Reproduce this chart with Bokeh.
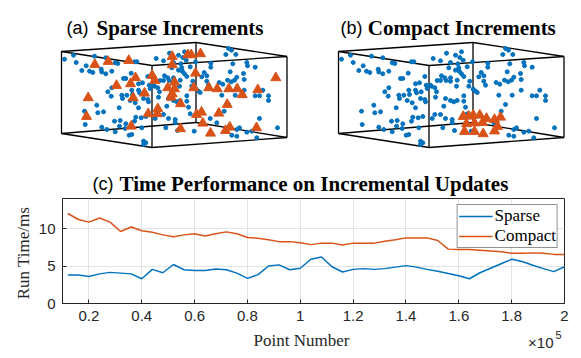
from math import pi
from bokeh.plotting import figure
from bokeh.layouts import column, row
from bokeh.models import Range1d, FixedTicker, NumeralTickFormatter
from bokeh.core.properties import value
from bokeh.embed import file_html
from bokeh.resources import INLINE

BLUE = "#0072BD"
ORANGE = "#D95319"
DARK = "#262626"

# ---------------- (c) time performance data ----------------
point_number = [0.12, 0.16, 0.20, 0.24, 0.28, 0.32, 0.36, 0.40, 0.44, 0.48,
                0.52, 0.56, 0.60, 0.64, 0.68, 0.72, 0.76, 0.80, 0.84, 0.88,
                0.92, 0.96, 1.00, 1.04, 1.08, 1.12, 1.16, 1.20, 1.24, 1.28,
                1.32, 1.36, 1.40, 1.44, 1.48, 1.52, 1.56, 1.60, 1.64, 1.68,
                1.72, 1.76, 1.80, 1.84, 1.88, 1.92, 1.96, 2.00]
sparse_ms = [3.8, 3.8, 3.6, 3.95, 4.15, 4.05, 3.95, 3.3, 4.55, 4.1,
             5.2, 4.5, 4.4, 4.4, 4.6, 4.5, 4.05, 3.35, 3.85, 5.0,
             5.15, 4.5, 4.7, 5.9, 6.2, 4.9, 4.2, 4.55, 4.65, 4.55,
             4.65, 4.85, 5.05, 4.85, 4.55, 4.3, 4.0, 3.7, 3.3, 4.1,
             4.7, 5.3, 5.9, 5.6, 5.1, 4.65, 4.25, 4.9]
compact_ms = [12.0, 11.2, 10.85, 11.4, 10.85, 9.6, 10.2, 9.7, 9.5, 9.15,
              8.9, 9.15, 9.3, 9.0, 9.3, 9.55, 9.3, 8.8, 8.7, 8.5,
              8.25, 8.25, 8.1, 7.85, 8.05, 8.05, 7.8, 8.05, 8.05, 8.05,
              8.3, 8.5, 8.75, 8.75, 8.75, 8.4, 7.25, 7.2, 7.2, 7.1,
              7.0, 6.9, 6.7, 6.7, 6.75, 6.7, 6.55, 6.55]
x_ticks = [0.2, 0.4, 0.6, 0.8, 1.0, 1.2, 1.4, 1.6, 1.8, 2.0]
y_ticks = [0, 5, 10]
series_names = ["Sparse", "Compact"]

# ---------------- (a)/(b) projected point clouds ----------------
cloud_u = [3, 12, 14.7, 24.7, 20.3, 28, 31.3, 33, 39.7, 40.3, 44.3, 44.3, 50.3, 53.7, 56.3,
           62, 64.3, 69.7, 73, 75.3, 77, 81, 86.3, 87.7, 92, 96.3, 98.7, 102, 103, 106.3,
           107.7, 112, 112, 110.3, 102, 94.7, 108, 112, 50.3, 46.3, 49.7, 60.3, 65.3, 70.3, 71,
           77, 78, 82.7, 88.7, 93, 98,
           117, 123, 121.3, 124.7, 119.3, 117, 120.3, 121, 128.7, 123, 125.3, 118.7, 131.3, 118,
           130.3, 134.7, 137, 138.7, 125.3, 134, 140.3, 142.7, 145.3, 145.3, 147, 149.3, 149.3,
           164.3, 167, 170, 174.3, 171.3, 168.7, 157.7, 161.3, 166, 169.7, 173, 175.3, 182,
           182.7, 182.7, 185.3, 186, 193.7, 201.3, 160.3, 173.7, 193.7, 198, 207,
           61, 68.7, 73.7, 77, 82, 86.3, 87, 97, 107, 112, 105.3, 35.3, 57.7, 23, 36.3, 42,
           93.7, 96.3, 102, 107, 113.7, 74.3, 79.7, 84.3, 53, 58.7, 64.3, 58, 73, 23.7, 40.3,
           45.3, 53.7, 63.7, 80.3, 104.3, 67.7, 70.3, 82, 84.3, 82,
           118.7, 125.3, 115.3, 127, 128.7, 207, 167, 162.7, 198, 113.7, 116, 148.7, 155.3,
           175.3, 178, 190.3, 216, 195.3, 170.3, 175.3, 132.7, 185.3]
cloud_v = [58.7, 54.7, 62, 65.3, 70, 70.7, 72, 55.7, 68.7, 71.5, 73.3, 57.3, 70.7, 62.3, 63,
           78, 78, 72.7, 61.3, 61.3, 83.3, 82.3, 76, 84.7, 84.7, 87.3, 80, 80, 75.3, 77.3,
           80, 77.3, 80.7, 67.3, 60.3, 58, 52.7, 62, 87.3, 91.3, 95.7, 94.7, 94.7, 89.7, 94,
           89.7, 92.3, 91.3, 88, 85.7, 91.3,
           54.7, 51.3, 57, 59.7, 63.3, 69.7, 67.3, 71, 66.3, 73.3, 76, 79.7, 80.7, 85.7,
           85.7, 88.7, 90.7, 92, 95.3, 61.3, 76.3, 72, 75.3, 80.7, 84.7, 62.7, 66.7,
           54, 48, 49.7, 54, 63.3, 71.3, 82, 83.7, 79.7, 81.3, 79.7, 76.7, 73,
           79, 89.7, 62, 65.3, 66.7, 89.7, 94.7, 94.7, 95.3, 95.3, 95.3,
           98, 100, 102.3, 107.3, 98, 99, 101.3, 96.7, 98, 100, 105.7, 104.7, 107.3, 110.7, 112.3, 111.3,
           118, 114, 114, 118, 119, 116.7, 117.3, 116, 120.7, 120, 123.3, 125.7, 120.7, 124, 126.7,
           129, 131.3, 128, 127.3, 127.3, 134.7, 134, 140.7, 142.3, 144,
           100, 100.7, 101.3, 106.7, 113.3, 100, 104, 110.7, 118, 122.3, 130, 118, 122.3,
           129, 127.3, 130.7, 127.3, 137.3, 134.7, 135.7, 130.7, 131.7]

sparse_tri_u = [33.3, 46.7, 67.3, 110.7, 126.3, 129.7, 139, 110.7, 90.7, 93.3, 74, 69, 55,
                134, 113, 106.3, 113, 110.7, 109.7, 132.3, 147.3, 155.7, 167.3, 175.7, 180.7,
                196.3, 214.3, 26.7, 25, 71.7, 83, 96.3, 95.7, 86.7, 119, 140, 135, 157.3,
                165.7, 141.3, 69.7, 119, 149, 164, 168.3, 195]
sparse_tri_v = [64, 61, 60, 56, 54.3, 54.3, 53.3, 64.3, 75, 80, 77.3, 83.3, 85,
                72.7, 81.7, 87.3, 88.3, 93.3, 96.7, 87.3, 87.3, 88.3, 88.3, 88.3, 94.3,
                89.3, 77.3, 97.3, 116, 97.3, 92.7, 108.3, 113.3, 113.3, 103.3, 111.7, 114, 112.7,
                104, 122.7, 125.7, 128.3, 132.7, 130, 126.7, 127.3]
compact_tri_u = [124.7, 130.3, 134.7, 141.3, 148, 156, 162, 128, 136, 144, 126, 136, 144.7, 156, 159]
compact_tri_v = [116, 115.7, 114.7, 114.7, 118, 119, 116.7, 123.3, 122.5, 122, 131, 131, 133.3, 130.5, 126]

# projected corners of the 3-D axes box (top face, bottom face)
box_u = [0, 134.5, 225.5, 90.5]
box_top_v = [51, 42, 56, 65]
box_bot_v = [133, 122, 137, 147]

edge_xs, edge_ys = [], []
for i in range(4):
    j = (i + 1) % 4
    edge_xs += [[box_u[i], box_u[j]], [box_u[i], box_u[j]], [box_u[i], box_u[i]]]
    edge_ys += [[box_top_v[i], box_top_v[j]], [box_bot_v[i], box_bot_v[j]],
                [box_top_v[i], box_bot_v[i]]]


def strip(width, height, x0, y0):
    p = figure(width=width, height=height, x_range=Range1d(x0, x0 + width),
               y_range=Range1d(y0 + height, y0), x_axis_location=None,
               y_axis_location=None, output_backend="svg", toolbar_location=None,
               min_border=0)
    p.grid.visible = False
    p.outline_line_color = None
    return p


def cloud_panel(width, x0, tag, title, tag_x, title_x, tri_u, tri_v):
    p = strip(width, 168, x0, 0)
    p.multi_line(edge_xs, edge_ys, line_color="black", line_width=1.3)
    p.scatter(cloud_u, cloud_v, size=4, color=BLUE)
    p.scatter(tri_u, tri_v, marker="triangle", size=10, color=ORANGE)
    p.text(x=[tag_x], y=[27], text=[tag], text_font=value("Liberation Sans"),
           text_font_size="18px", text_baseline="alphabetic", text_color="black")
    p.text(x=[title_x], y=[27], text=[title], text_font=value("Liberation Serif"),
           text_font_size="21px", text_font_style="bold", text_baseline="alphabetic",
           text_color="black")
    return p


pa = cloud_panel(290, -61, "(a)", "Sparse Increments", 5, 35, sparse_tri_u, sparse_tri_v)
pb = cloud_panel(291, -48, "(b)", "Compact Increments", 2, 29.3, compact_tri_u, compact_tri_v)

# title strip for (c)   (y 168..196)
pt = strip(581, 28, 0, 168)
pt.text(x=[92], y=[183], text=["(c)"], text_font=value("Liberation Sans"),
        text_font_size="18px", text_baseline="alphabetic", text_color="black")
pt.text(x=[119], y=[183], text=["Time Performance on Incremental Updates"],
        text_font=value("Liberation Serif"), text_font_size="21px",
        text_font_style="bold", text_baseline="alphabetic", text_color="black")

# y-label strip (x 0..35, y 196..327)
py = strip(35, 131, 0, 196)
py.text(x=[23], y=[264], text=["Run Time/ms"], angle=pi / 2, text_align="center",
        text_baseline="middle", text_font=value("Liberation Serif"),
        text_font_size="17px", text_color=DARK)

# line chart (x 35..581, y 196..327)
pc = figure(width=546, height=131, x_range=Range1d(0.1, 2.0), y_range=Range1d(0, 14),
            output_backend="svg", toolbar_location=None,
            min_border_left=26, min_border_right=17, min_border_top=2, min_border_bottom=24)
pc.line(point_number, sparse_ms, color=BLUE, line_width=1.5, legend_label=series_names[0])
pc.line(point_number, compact_ms, color=ORANGE, line_width=1.5, legend_label=series_names[1])

pc.xaxis.ticker = FixedTicker(ticks=x_ticks)
pc.yaxis.ticker = FixedTicker(ticks=y_ticks)
pc.xaxis.formatter = NumeralTickFormatter(format="0.[0]")
pc.axis.major_label_text_font = "Liberation Sans"
pc.axis.major_label_text_font_size = "15px"
pc.axis.major_label_text_color = DARK
pc.axis.axis_line_color = DARK
pc.axis.major_tick_line_color = DARK
pc.axis.major_tick_in = 4
pc.axis.major_tick_out = 0
pc.axis.minor_tick_line_color = None
pc.xaxis.major_label_standoff = 7
pc.yaxis.major_label_standoff = 7
pc.grid.grid_line_color = "#e3e3e3"
pc.outline_line_color = DARK

lg = pc.legend[0]
lg.location = "top_right"
lg.margin = 6
lg.padding = 1
lg.spacing = 0
lg.glyph_width = 34
lg.glyph_height = 16
lg.label_height = 16
lg.label_standoff = 2
lg.label_text_font = "Liberation Serif"
lg.label_text_font_size = "17px"
lg.label_text_color = "black"
lg.border_line_color = DARK
lg.background_fill_alpha = 1

# bottom strip (y 327..358)
pbot = strip(581, 31, 0, 327)
pbot.text(x=[301], y=[340], text=["Point Number"], text_align="center",
          text_baseline="middle", text_font=value("Liberation Serif"),
          text_font_size="17px", text_color=DARK)
pbot.text(x=[553], y=[342], text=["×10"], text_align="right", text_baseline="middle",
          text_font=value("Liberation Sans"), text_font_size="15px", text_color=DARK)
pbot.text(x=[555], y=[334.5], text=["5"], text_align="left", text_baseline="middle",
          text_font=value("Liberation Sans"), text_font_size="11px", text_color=DARK)

layout = column(row(pa, pb), pt, row(py, pc), pbot)
open("out.html", "w").write(file_html(layout, INLINE))
